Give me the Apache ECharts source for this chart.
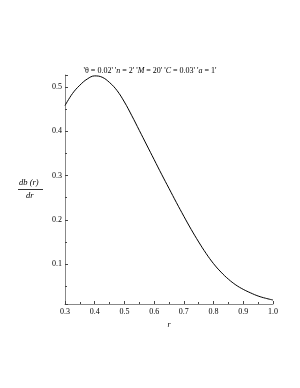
<!DOCTYPE html>
<html><head><meta charset="utf-8">
<script src="https://cdn.jsdelivr.net/npm/echarts@6/dist/echarts.min.js"></script>
<style>html,body{margin:0;padding:0;background:#fff}#c{width:300px;height:388px}</style>
</head><body><div id="c"></div>
<script>
const rValues = [0.30,0.325,0.35,0.375,0.40,0.425,0.45,0.475,0.50,0.525,0.55,0.575,0.60,0.625,0.65,0.675,0.70,0.725,0.75,0.775,0.80,0.825,0.85,0.875,0.90,0.925,0.95,0.975,1.00];
const dbValues = [0.458,0.485,0.504,0.518,0.525,0.522,0.510,0.492,0.466,0.435,0.402,0.369,0.336,0.303,0.271,0.239,0.208,0.178,0.150,0.124,0.101,0.082,0.066,0.053,0.043,0.035,0.028,0.023,0.019];
const xTicks = [0.3,0.4,0.5,0.6,0.7,0.8,0.9,1.0];

const font = 'Liberation Serif';
const chart = echarts.init(document.getElementById('c'), null, {renderer:'canvas'});
chart.setOption({
  animation:false,
  backgroundColor:'#fff',
  title:{
    text:"{r|'θ = 0.02' '}{i|n}{r| = 2' '}{i|M}{r| = 20' '}{i|C}{r| = 0.03' '}{i|a}{r| = 1'}",
    left:'center', top:62,
    textStyle:{fontWeight:'normal',rich:{
      r:{fontFamily:font,fontSize:8,fontWeight:'normal',color:'#000'},
      i:{fontFamily:font,fontSize:8,fontWeight:'normal',fontStyle:'italic',color:'#000'}
    }}
  },
  grid:{left:65,right:27,top:75,bottom:84,containLabel:false},
  xAxis:{
    type:'value',min:0.3,max:1.0,interval:0.1,
    name:'r',nameLocation:'middle',nameGap:17,
    nameTextStyle:{fontFamily:font,fontStyle:'italic',fontSize:8,color:'#000'},
    axisLine:{show:true,onZero:false,lineStyle:{color:'#888',width:1}},
    axisTick:{show:true,inside:true,length:3,lineStyle:{color:'#444',width:1}},
    minorTick:{show:true,splitNumber:2,length:2,lineStyle:{color:'#444',width:1}},
    splitLine:{show:false},
    axisLabel:{fontFamily:font,fontSize:8,color:'#000',margin:4,
      formatter:v=>{const t=xTicks.find(x=>Math.abs(x-v)<1e-6);return t===undefined?'':t.toFixed(1);}}
  },
  yAxis:{
    type:'value',min:0.01,max:0.527,splitNumber:5,
    axisLine:{show:true,onZero:false,lineStyle:{color:'#888',width:1}},
    axisTick:{show:true,inside:true,length:3,lineStyle:{color:'#444',width:1}},
    minorTick:{show:true,splitNumber:2,length:2,lineStyle:{color:'#444',width:1}},
    splitLine:{show:false},
    axisLabel:{fontFamily:font,fontSize:8,color:'#000',margin:3,showMinLabel:false,showMaxLabel:false,
      formatter:v=>v.toFixed(1)}
  },
  graphic:[
    {type:'text',left:19,top:178,style:{text:'db (r)',font:'italic 8.5px "Liberation Serif"',fill:'#000'}},
    {type:'line',shape:{x1:18,y1:189.5,x2:43,y2:189.5},style:{stroke:'#000',lineWidth:0.8}},
    {type:'text',left:26,top:191,style:{text:'dr',font:'italic 8.5px "Liberation Serif"',fill:'#000'}}
  ],
  series:[{
    type:'line',smooth:0.4,symbol:'none',
    data:rValues.map((r,i)=>[r,dbValues[i]]),
    lineStyle:{color:'#000',width:1}
  }]
});
</script></body></html>
